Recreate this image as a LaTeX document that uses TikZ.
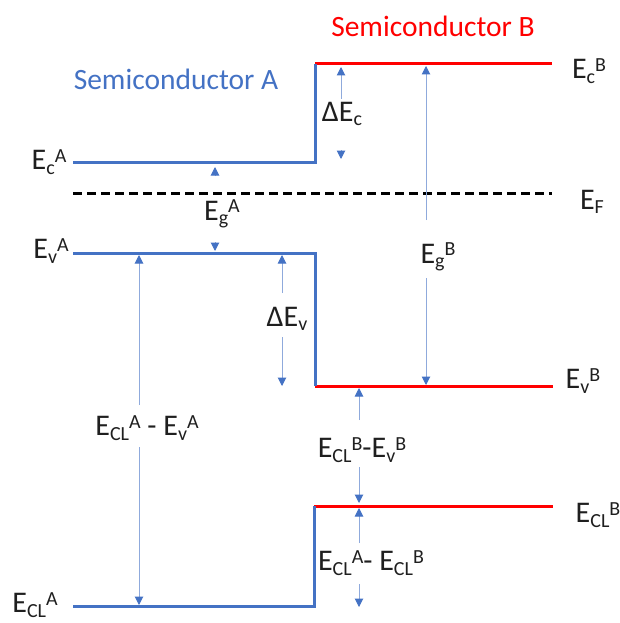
\documentclass[tikz,border=0pt]{standalone}
\usepackage{fontspec}
\setmainfont{Carlito}
\usetikzlibrary{arrows.meta}
\definecolor{bandblue}{HTML}{4472C4}
\definecolor{bandred}{HTML}{FF0000}
\definecolor{arrline}{HTML}{8FAADC}
\definecolor{txt}{HTML}{1F1F1F}
\newcommand\sbs[1]{\raisebox{-0.15em}{\fontsize{20}{20}\selectfont #1}}
\newcommand\sps[1]{\raisebox{0.25em}{\fontsize{20}{20}\selectfont #1}}
\begin{document}
\begin{tikzpicture}[x=1pt,y=-1pt,
  bandA/.style={bandblue, line width=3pt},
  bandB/.style={bandred, line width=3pt},
  fermi/.style={black, line width=3pt, dash pattern=on 9pt off 5pt},
  gap/.style={arrline, line width=1pt, -{Triangle[width=8.5pt,length=8.5pt,color=bandblue]}},
  lab/.style={text=txt, inner sep=0pt, font=\fontsize{30}{36}\selectfont},
  title/.style={inner sep=0pt, font=\fontsize{29.5}{35}\selectfont}]
\useasboundingbox (0,0) rectangle (620,623);
% level coordinates
\coordinate (cA0) at (73,162);  \coordinate (cA1) at (315,162);
\coordinate (cB0) at (315,64);  \coordinate (cB1) at (552,64);
\coordinate (f0) at (73,193);   \coordinate (f1) at (552,193);
\coordinate (vA0) at (73,253);  \coordinate (vA1) at (315,253);
\coordinate (vB0) at (315,386); \coordinate (vB1) at (553,386);
\coordinate (lB0) at (314,506); \coordinate (lB1) at (553,506);
\coordinate (lA0) at (73,606);  \coordinate (lA1) at (314,606);
% bands
\draw[bandB] (cB0) -- (cB1);
\draw[bandA, line join=miter] (cA0) -- (cA1) -- (cB0);
\draw[fermi] (f0) -- (f1);
\draw[bandB] (vB0) -- (vB1);
\draw[bandA, line join=miter] (vA0) -- (vA1) -- (vB0);
\draw[bandB] (lB0) -- (lB1);
\draw[bandA, line join=miter] (lA0) -- (lA1) -- (lB0);
% titles
\node[title, text=bandblue] (semA) at (176,79) {Semiconductor A};
\node[title, text=bandred] (semB) at (433,26) {Semiconductor B};
% level labels
\node[lab] (EcA) at (49,162) {E\sbs{c}\sps{A}};
\node[lab] (EvA) at (51,251) {E\sbs{v}\sps{A}};
\node[lab] (EclA) at (35,605) {E\sbs{CL}\sps{A}};
\node[lab] (EcB) at (589,71) {E\sbs{c}\sps{B}};
\node[lab] (EF) at (592,202) {E\sbs{F}};
\node[lab] (EvB) at (583,381) {E\sbs{v}\sps{B}};
\node[lab] (EclB) at (598,515) {E\sbs{CL}\sps{B}};
% gap labels
\node[lab] (EgA) at (222,214) {E\sbs{g}\sps{A}};
\node[lab] (dEc) at (342,114) {ΔE\sbs{c}};
\node[lab] (EgB) at (438,257) {E\sbs{g}\sps{B}};
\node[lab] (dEv) at (287,319) {ΔE\sbs{v}};
\node[lab] (dclA) at (147,428) {E\sbs{CL}\sps{A} - E\sbs{v}\sps{A}};
\node[lab] (dclB) at (362,450) {E\sbs{CL}\sps{B}-E\sbs{v}\sps{B}};
\node[lab] (dcl) at (371,563) {E\sbs{CL}\sps{A}- E\sbs{CL}\sps{B}};
% arrow coordinates
\coordinate (a1s) at (215,176); \coordinate (a1t) at (215,167);
\coordinate (a2s) at (215,242); \coordinate (a2t) at (215,251);
\coordinate (b1s) at (341,99);  \coordinate (b1t) at (341,67);
\coordinate (b2s) at (341,150); \coordinate (b2t) at (341,159);
\coordinate (c1s) at (426,220); \coordinate (c1t) at (426,66);
\coordinate (c2s) at (426,278); \coordinate (c2t) at (426,385);
\coordinate (d1s) at (282,293); \coordinate (d1t) at (282,255);
\coordinate (d2s) at (282,337); \coordinate (d2t) at (282,386);
\coordinate (e1s) at (139,405); \coordinate (e1t) at (139,255);
\coordinate (e2s) at (139,447); \coordinate (e2t) at (139,605);
\coordinate (g1s) at (359,420); \coordinate (g1t) at (359,388);
\coordinate (g2s) at (359,467); \coordinate (g2t) at (359,503);
\coordinate (h1s) at (359,543); \coordinate (h1t) at (359,508);
\coordinate (h2s) at (359,584); \coordinate (h2t) at (359,607);
\foreach \p in {a1,a2,b1,b2,c1,c2,d1,d2,e1,e2,g1,g2,h1,h2}
  \draw[gap] (\p s) -- (\p t);
\end{tikzpicture}
\end{document}
